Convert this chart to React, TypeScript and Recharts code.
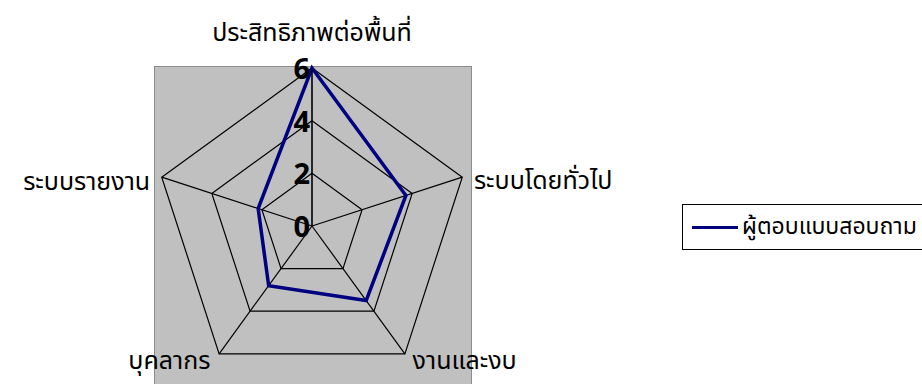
import React from 'react';
import {
  RadarChart,
  Radar,
  PolarGrid,
  PolarAngleAxis,
  PolarRadiusAxis,
  Legend
} from 'recharts';

const categories = ['ประสิทธิภาพต่อพื้นที่', 'ระบบโดยทั่วไป', 'งานและงบ', 'บุคลากร', 'ระบบรายงาน'];
const respondentValues = [6, 3.75, 3.5, 2.8, 2.15];
const radiusTicks = [0, 2, 4, 6];
const seriesName = 'ผู้ตอบแบบสอบถาม';

const data = categories.map((name, i) => ({ name, value: respondentValues[i] }));

const FONT = "Tahoma, 'Noto Sans Thai', 'DejaVu Sans', sans-serif";

const AngleTick = (props: any) => {
  const { x, y, payload, index } = props;
  // nudge each label like the original layout
  const offsets: Record<number, { dx: number; dy: number; anchor: string }> = {
    0: { dx: 0, dy: -27, anchor: 'middle' },
    1: { dx: 4, dy: 6, anchor: 'start' },
    2: { dx: 3, dy: 1, anchor: 'start' },
    3: { dx: -4, dy: 1, anchor: 'end' },
    4: { dx: -4, dy: 7, anchor: 'end' }
  };
  const o = offsets[index] || { dx: 0, dy: 0, anchor: 'middle' };
  return (
    <text
      x={x + o.dx}
      y={y + o.dy}
      textAnchor={o.anchor}
      dominantBaseline="central"
      fontSize={25}
      fontFamily={FONT}
      fill="#000"
    >
      {payload.value}
    </text>
  );
};

const RadiusTick = (props: any) => {
  const { x, y, payload } = props;
  return (
    <text
      x={x - 2}
      y={y + 2}
      textAnchor="end"
      dominantBaseline="central"
      fontSize={29}
      fontWeight="bold"
      fontFamily={FONT}
      fill="#000"
    >
      {payload.value}
    </text>
  );
};

const LegendBox = () => (
  <div
    style={{
      border: '1px solid #000',
      background: '#fff',
      width: 250,
      height: 46,
      display: 'flex',
      alignItems: 'center',
      boxSizing: 'border-box',
      paddingLeft: 9,
      fontFamily: FONT,
      fontSize: 23,
      color: '#000',
      whiteSpace: 'nowrap'
    }}
  >
    <span style={{ display: 'inline-block', width: 46, height: 3, background: '#000080', marginRight: 4 }} />
    <span>{seriesName}</span>
  </div>
);

export default function App() {
  return (
    <div style={{ position: 'absolute', left: 0, top: 0, width: 922, height: 384, background: '#fff', overflow: 'hidden' }}>
      <div
        style={{
          position: 'absolute',
          left: 154,
          top: 66,
          width: 318,
          height: 330,
          background: '#c0c0c0',
          border: '1px solid #8c8c8c',
          boxSizing: 'border-box'
        }}
      />
      <RadarChart
        width={922}
        height={384}
        data={data}
        cx={312}
        cy={226}
        outerRadius={158}
        margin={{ top: 0, right: 0, bottom: 0, left: 0 }}
        style={{ position: 'absolute', left: 0, top: 0 }}
      >
        <PolarGrid gridType="polygon" stroke="#000" strokeWidth={1.2} />
        <PolarAngleAxis dataKey="name" tick={AngleTick} tickLine={false} axisLine={false} />
        <PolarRadiusAxis
          angle={90}
          domain={[0, 6]}
          ticks={radiusTicks}
          tick={RadiusTick}
          axisLine={{ stroke: '#000' }}
          tickLine={false}
        />
        <Radar
          name={seriesName}
          dataKey="value"
          stroke="#000080"
          strokeWidth={3.5}
          fill="none"
          fillOpacity={0}
          dot={false}
          isAnimationActive={false}
        />
        <Legend
          content={LegendBox}
          wrapperStyle={{ position: 'absolute', left: 682, top: 204, width: 250 }}
        />
      </RadarChart>
    </div>
  );
}
